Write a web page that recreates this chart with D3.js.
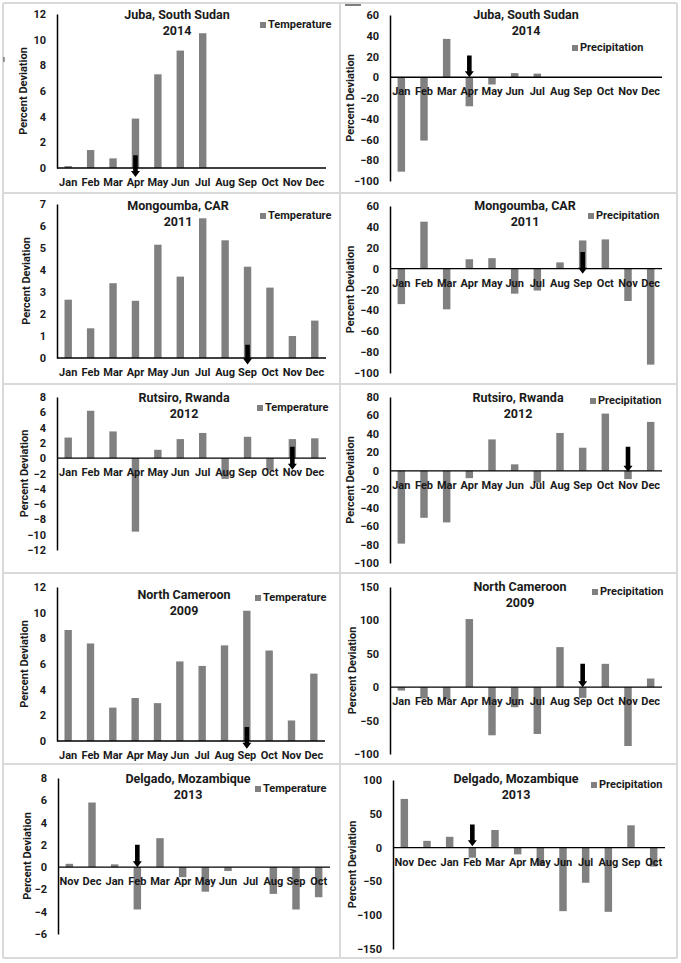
<!DOCTYPE html>
<html>
<head>
<meta charset="utf-8">
<script src="https://cdn.jsdelivr.net/npm/d3@7"></script>
<style>
	body { margin: 0; background: #ffffff; }
	text { font-family: Roboto, "Liberation Sans", sans-serif; font-weight: bold; fill: #1a1a1a; }
</style>
</head>
<body>
<div class="data_display"></div>
<script>
var w = 681;
var h = 963;

//Month orders
var months = ["Jan", "Feb", "Mar", "Apr", "May", "Jun", "Jul", "Aug", "Sep", "Oct", "Nov", "Dec"];
var monthsNovOct = ["Nov", "Dec", "Jan", "Feb", "Mar", "Apr", "May", "Jun", "Jul", "Aug", "Sep", "Oct"];

//Percent deviation values
var jubaTemp = [0.15, 1.4, 0.75, 3.85, 7.3, 9.15, 10.5, 0, 0, 0, 0, 0];
var jubaPrecip = [-91, -61, 37, -28, -7, 4, 3.5, 0, 0, 0, 0, 0];
var mongTemp = [2.65, 1.35, 3.4, 2.6, 5.15, 3.7, 6.35, 5.35, 4.15, 3.2, 1.0, 1.7];
var mongPrecip = [-34, 45, -39, 9, 10, -24, -21, 6, 27, 28, -31, -92];
var rutTemp = [2.7, 6.2, 3.5, -9.6, 1.1, 2.5, 3.3, -2.7, 2.8, -1.6, 2.5, 2.6];
var rutPrecip = [-79, -51, -56, -8, 34, 7, -13, 41, 25, 62, -9, 53];
var camTemp = [8.65, 7.6, 2.6, 3.35, 2.95, 6.2, 5.85, 7.45, 10.15, 7.05, 1.6, 5.25];
var camPrecip = [-5, -17, -18, 102, -72, -30, -70, 60, -16, 35, -88, 13];
var delTemp = [0.3, 5.8, 0.25, -3.8, 2.6, -0.9, -2.2, -0.35, 0, -2.4, -3.8, -2.7];
var delPrecip = [72, 10, 16, -15, 26, -10, -27, -94, -52, -95, 33, -28];

//Y axis tick values
var ticksTemp12 = [0, 2, 4, 6, 8, 10, 12];
var ticksTemp7 = [0, 1, 2, 3, 4, 5, 6, 7];
var ticksRutTemp = [-12, -10, -8, -6, -4, -2, 0, 2, 4, 6, 8];
var ticksDelTemp = [-6, -4, -2, 0, 2, 4, 6, 8];
var ticksPrecip60 = [-100, -80, -60, -40, -20, 0, 20, 40, 60];
var ticksPrecip80 = [-100, -80, -60, -40, -20, 0, 20, 40, 60, 80];
var ticksPrecip150 = [-100, -50, 0, 50, 100, 150];
var ticksPrecip100 = [-150, -100, -50, 0, 50, 100];

//Arrow marks: [month, start value, end value]
var arrowJubaTemp = ["Apr", 1, -0.7];
var arrowJubaPrecip = ["Apr", 21, 0];
var arrowMongTemp = ["Sep", 0.6, -0.3];
var arrowMongPrecip = ["Sep", 16, -5];
var arrowRutTemp = ["Nov", 1.5, -1.5];
var arrowRutPrecip = ["Nov", 26, -1];
var arrowCamTemp = ["Sep", 1.1, -0.6];
var arrowCamPrecip = ["Sep", 35, 0];
var arrowDelTemp = ["Feb", 2, 0];
var arrowDelPrecip = ["Feb", 34, 2];

//Panel layout (pixels)
var panels = [
	{place: "Juba, South Sudan", year: "2014", kind: "Temperature", cats: months, vals: jubaTemp, ticks: ticksTemp12, arrow: arrowJubaTemp,
		ax: 57, ax1: 326, yTop: 14, yBot: 168, tx: 177, ty: 16, lx: 263, ly: 25, yl: 24},
	{place: "Juba, South Sudan", year: "2014", kind: "Precipitation", cats: months, vals: jubaPrecip, ticks: ticksPrecip60, arrow: arrowJubaPrecip,
		ax: 390, ax1: 662, yTop: 15, yBot: 181, tx: 526, ty: 16, lx: 575, ly: 48, yl: 351},
	{place: "Mongoumba, CAR", year: "2011", kind: "Temperature", cats: months, vals: mongTemp, ticks: ticksTemp7, arrow: arrowMongTemp,
		ax: 57, ax1: 326, yTop: 204, yBot: 358, tx: 178, ty: 207, lx: 263, ly: 216, yl: 27},
	{place: "Mongoumba, CAR", year: "2011", kind: "Precipitation", cats: months, vals: mongPrecip, ticks: ticksPrecip60, arrow: arrowMongPrecip,
		ax: 390, ax1: 662, yTop: 206, yBot: 373, tx: 525, ty: 207, lx: 591, ly: 216, yl: 351},
	{place: "Rutsiro, Rwanda", year: "2012", kind: "Temperature", cats: months, vals: rutTemp, ticks: ticksRutTemp, arrow: arrowRutTemp,
		ax: 57, ax1: 326, yTop: 397, yBot: 550, tx: 184, ty: 399, lx: 260, ly: 408, yl: 25},
	{place: "Rutsiro, Rwanda", year: "2012", kind: "Precipitation", cats: months, vals: rutPrecip, ticks: ticksPrecip80, arrow: arrowRutPrecip,
		ax: 390, ax1: 662, yTop: 397, yBot: 563, tx: 518, ty: 399, lx: 593, ly: 401, yl: 351},
	{place: "North Cameroon", year: "2009", kind: "Temperature", cats: months, vals: camTemp, ticks: ticksTemp12, arrow: arrowCamTemp,
		ax: 57, ax1: 325, yTop: 587, yBot: 741, tx: 184, ty: 596, lx: 258, ly: 598, yl: 25},
	{place: "North Cameroon", year: "2009", kind: "Precipitation", cats: months, vals: camPrecip, ticks: ticksPrecip150, arrow: arrowCamPrecip,
		ax: 390, ax1: 662, yTop: 587, yBot: 754, tx: 520, ty: 588, lx: 595, ly: 592, yl: 353},
	{place: "Delgado, Mozambique", year: "2013", kind: "Temperature", cats: monthsNovOct, vals: delTemp, ticks: ticksDelTemp, arrow: arrowDelTemp,
		ax: 58, ax1: 330, yTop: 778, yBot: 934, tx: 188, ty: 780, lx: 258, ly: 789, yl: 28},
	{place: "Delgado, Mozambique", year: "2013", kind: "Precipitation", cats: monthsNovOct, vals: delPrecip, ticks: ticksPrecip100, arrow: arrowDelPrecip,
		ax: 393, ax1: 665, yTop: 780, yBot: 949, tx: 516, ty: 780, lx: 594, ly: 785, yl: 353}
];

var gridX = [3, 340, 677];
var gridY = [3, 193, 384, 573, 764, 958];
var barColor = "#808080";

var svg = d3.select(".data_display").append("svg")
	.attr("width", w)
	.attr("height", h);

//Light grey table lines around the panels
svg.selectAll(".hline")
	.data(gridY)
	.enter()
	.append("line")
	.attr("x1", gridX[0]).attr("x2", gridX[2])
	.attr("y1", function(d){ return d; }).attr("y2", function(d){ return d; })
	.attr("stroke", "#d9d9d9").attr("stroke-width", 2);
svg.selectAll(".vline")
	.data(gridX)
	.enter()
	.append("line")
	.attr("x1", function(d){ return d; }).attr("x2", function(d){ return d; })
	.attr("y1", gridY[0]).attr("y2", gridY[5])
	.attr("stroke", "#d9d9d9").attr("stroke-width", 2);

//stray marks in the scanned figure
svg.append("line").attr("x1", 4).attr("x2", 4).attr("y1", 57).attr("y2", 62).attr("stroke", "#444").attr("stroke-width", 1);
svg.append("line").attr("x1", 345).attr("x2", 361).attr("y1", 5).attr("y2", 5).attr("stroke", "#555").attr("stroke-width", 1.5);

function drawPanel(p){
	var g = svg.append("g");

	var x = d3.scaleBand()
		.domain(p.cats)
		.range([p.ax, p.ax1]);

	var y = d3.scaleLinear()
		.domain([d3.min(p.ticks), d3.max(p.ticks)])
		.range([p.yBot, p.yTop]);

	var barW = x.bandwidth() * 0.33;

	//Bars
	g.selectAll("rect.bar")
		.data(p.vals)
		.enter()
		.append("rect")
		.attr("class", "bar")
		.attr("x", function(d, i){ return x(p.cats[i]) + x.bandwidth() / 2 - barW / 2; })
		.attr("y", function(d){ return y(Math.max(0, d)); })
		.attr("width", barW)
		.attr("height", function(d){ return Math.abs(y(d) - y(0)); })
		.attr("fill", barColor);

	//Y axis (no tick marks, just labels)
	var yAxis = d3.axisLeft(y)
		.tickValues(p.ticks)
		.tickSize(0)
		.tickPadding(11)
		.tickFormat(d3.format("d"));
	var ya = g.append("g")
		.attr("transform", "translate(" + p.ax + ",0)")
		.call(yAxis);
	ya.select(".domain").attr("stroke", "#000").attr("stroke-width", 1.5);
	ya.selectAll("text")
		.style("font-size", "11px")
		.style("font-family", "Roboto, sans-serif")
		.style("font-weight", "bold")
		.attr("fill", "#1a1a1a");

	//X axis line at zero
	g.append("line")
		.attr("x1", p.ax).attr("x2", p.ax1)
		.attr("y1", y(0)).attr("y2", y(0))
		.attr("stroke", "#000").attr("stroke-width", 1.3);

	//Month labels just below the zero line
	g.selectAll("text.month")
		.data(p.cats)
		.enter()
		.append("text")
		.attr("class", "month")
		.attr("x", function(d){ return x(d) + x.bandwidth() / 2; })
		.attr("y", y(0) + 15)
		.attr("text-anchor", "middle")
		.attr("dominant-baseline", "middle")
		.style("font-size", "11px")
		.text(function(d){ return d; });

	//Arrow
	var a = p.arrow;
	var ax = x(a[0]) + x.bandwidth() / 2;
	var y0 = y(a[1]), y1 = y(a[2]);
	var hw = 2.3, head = 4.5, hl = 6;
	g.append("path")
		.attr("d", "M" + (ax - hw) + "," + y0 +
			"L" + (ax + hw) + "," + y0 +
			"L" + (ax + hw) + "," + (y1 - hl) +
			"L" + (ax + head) + "," + (y1 - hl) +
			"L" + ax + "," + y1 +
			"L" + (ax - head) + "," + (y1 - hl) +
			"L" + (ax - hw) + "," + (y1 - hl) + "Z")
		.attr("fill", "#000");

	//Title
	g.append("text")
		.attr("x", p.tx).attr("y", p.ty)
		.attr("text-anchor", "middle")
		.attr("dominant-baseline", "middle")
		.style("font-size", "12.5px")
		.text(p.place);
	g.append("text")
		.attr("x", p.tx).attr("y", p.ty + 16)
		.attr("text-anchor", "middle")
		.attr("dominant-baseline", "middle")
		.style("font-size", "12.5px")
		.text(p.year);

	//Legend
	g.append("rect")
		.attr("x", p.lx - 3).attr("y", p.ly - 3)
		.attr("width", 6).attr("height", 6)
		.attr("fill", barColor);
	g.append("text")
		.attr("x", p.lx + 5).attr("y", p.ly)
		.attr("dominant-baseline", "middle")
		.style("font-size", "11px")
		.text(p.kind);

	//Y axis title
	var cy = (p.yTop + p.yBot) / 2;
	g.append("text")
		.attr("transform", "translate(" + p.yl + "," + cy + ") rotate(-90)")
		.attr("text-anchor", "middle")
		.attr("dominant-baseline", "middle")
		.style("font-size", "11px")
		.text("Percent Deviation");
}

panels.forEach(function(p){
	drawPanel(p);
});
</script>
</body>
</html>
